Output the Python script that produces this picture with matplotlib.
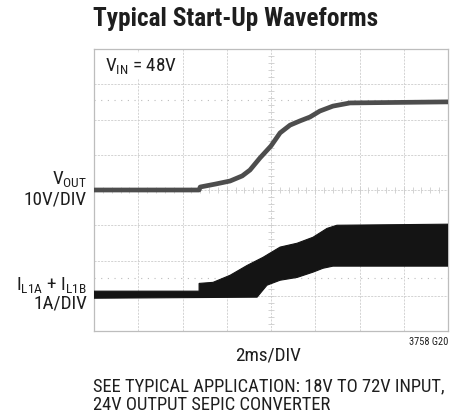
import numpy as np
import matplotlib
matplotlib.use("Agg")
import matplotlib.pyplot as plt
from matplotlib import font_manager as fm

# pick a narrow sans if one is around, otherwise shrink a regular one
names = {f.name for f in fm.fontManager.ttflist}
stretches = {(f.name, f.stretch) for f in fm.fontManager.ttflist}
k = 1.0
if 'Liberation Sans Narrow' in names:
    fam = 'Liberation Sans Narrow'
    plt.rcParams['font.family'] = [fam, 'DejaVu Sans']
elif 'Roboto Condensed' in names:
    fam = 'Roboto Condensed'
    plt.rcParams['font.family'] = [fam, 'DejaVu Sans']
elif any(n == 'DejaVu Sans' and s in ('condensed', 600) for n, s in stretches):
    plt.rcParams['font.family'] = ['DejaVu Sans']
    plt.rcParams['font.stretch'] = 'condensed'
    k = 0.92
else:
    plt.rcParams['font.family'] = ['Roboto', 'DejaVu Sans']
    k = 0.84
plt.rcParams['mathtext.default'] = 'regular'

# time axis in ms (2ms/DIV, 8 divisions), trace values read from the scope shot
vout_t = [-8, -3.25, -3.2, -2.5, -1.85, -1.3, -0.95, -0.5, 0, 0.41, 0.86, 1.31, 1.76, 2.21, 2.80, 3.57, 8]
vout_v = [0, 0, 0.85, 1.7, 2.55, 4.0, 5.67, 9.08, 12.5, 16.2, 18.4, 19.6, 20.7, 22.4, 23.8, 24.7, 25.0]

# inductor current envelope (A), switching ripple drawn as a filled band
il_up_t = [-8, -3.25, -3.25, -2.62, -1.85, -1.08, -0.36, 0.41, 1.18, 1.90, 2.53, 2.98, 8]
il_up_a = [0.23, 0.23, 0.45, 0.48, 0.68, 0.96, 1.19, 1.48, 1.59, 1.76, 2.01, 2.10, 2.13]
il_lo_t = [-8, -0.63, -0.18, 0.41, 1.18, 1.90, 2.35, 2.80, 8]
il_lo_a = [0.03, 0.06, 0.40, 0.54, 0.62, 0.77, 0.88, 0.94, 0.94]

v_per_div = 10.0
a_per_div = 1.0
il_offset = -3.1  # divisions

fig = plt.figure(figsize=(4.51, 4.18), dpi=100)
ax = fig.add_axes([94/451, 1-331/418, 354/451, 282/418])
ax.set_xlim(-8, 8)
ax.set_ylim(-4, 4)

gc = '#cccccc'
ax.set_xticks(np.arange(-8, 9, 2))
ax.set_yticks(np.arange(-4, 5, 1))
ax.grid(True, color=gc, lw=0.6, ls=(0, (2.5, 1.5)))
ax.tick_params(length=0, labelbottom=False, labelleft=False)
for s in ax.spines.values():
    s.set_color('#bdbdbd')
    s.set_linewidth(0.9)

# minor ticks on the centre cross
mx = np.arange(-8, 8.01, 0.4)
my = np.arange(-4, 4.01, 0.2)
ax.plot(mx, np.zeros_like(mx), ls='none', marker='|', ms=4, mew=0.6, color=gc)
ax.plot(np.zeros_like(my), my, ls='none', marker='_', ms=4, mew=0.6, color=gc)

# cursor lines
ax.axhline(2.55, color='#bcbcbc', lw=0.8, ls=(0, (1, 5)))
ax.axhline(-2.5, color='#bcbcbc', lw=0.8, ls=(0, (1, 5)))

ax.plot(vout_t, np.array(vout_v) / v_per_div, color='#4d4d4d', lw=3.4,
        solid_capstyle='butt', solid_joinstyle='round', zorder=3)

poly_t = list(il_up_t) + list(il_lo_t[::-1])
poly_y = [a / a_per_div + il_offset for a in il_up_a] + \
         [a / a_per_div + il_offset for a in il_lo_a[::-1]]
ax.fill(poly_t, poly_y, color='#141414', lw=0.8, ec='#141414', zorder=3)

ax.text(0.03, 0.94, r'V$_{IN}$ = 48V', transform=ax.transAxes, fontsize=13.8*k,
        va='center', ha='left', color='#1e1e1e',
        bbox=dict(fc='white', ec='none', pad=2), zorder=4)

W, H = 451, 418
def ft(x, y, s, size, **kw):
    fig.text(x / W, 1 - y / H, s, color='#1e1e1e', fontsize=size * k, **kw)

ft(93, 19, 'Typical Start-Up Waveforms', 18.3, fontweight='bold', va='center', ha='left')
ft(87, 179, r'V$_{OUT}$', 13.8, va='center', ha='right')
ft(87, 199, '10V/DIV', 13.8, va='center', ha='right')
ft(87, 285, r'I$_{L1A}$ + I$_{L1B}$', 13.8, va='center', ha='right')
ft(87, 303, '1A/DIV', 13.8, va='center', ha='right')
ft(268, 355, '2ms/DIV', 13.8, va='center', ha='center')
ft(448, 342, '3758 G20', 7.5, va='center', ha='right')
ft(93, 386, 'SEE TYPICAL APPLICATION: 18V TO 72V INPUT,', 13.3, va='center', ha='left')
ft(93, 405, '24V OUTPUT SEPIC CONVERTER', 13.3, va='center', ha='left')

fig.savefig('out.png', dpi=100)
